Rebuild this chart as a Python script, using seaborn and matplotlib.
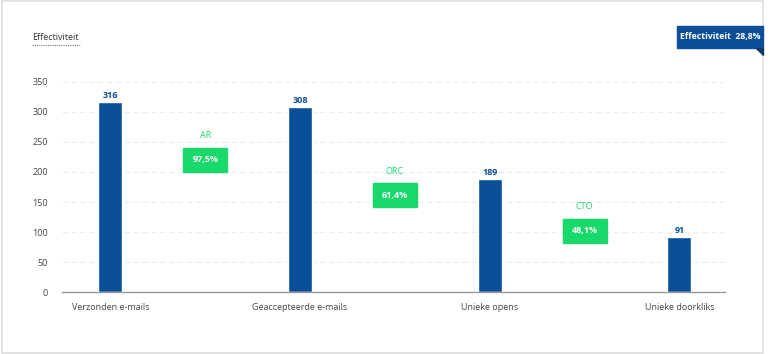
import matplotlib
matplotlib.use("Agg")
from matplotlib import pyplot as plt
from matplotlib.patches import Rectangle, Polygon
import pandas as pd
import seaborn as sns

categories = ["Verzonden e-mails", "Geaccepteerde e-mails", "Unieke opens", "Unieke doorkliks"]
counts = [316, 308, 189, 91]
ratio_names = ["AR", "ORC", "CTO"]
ratio_labels = ["97,5%", "61,4%", "48,1%"]
title = "Effectiviteit"
badge_text = "Effectiviteit  28,8%"

# box centres (data units) for the ratio badges between bars
ratio_box_y = [220, 161, 102.5]

BLUE = "#0a4f97"
GREEN = "#19d96b"

data = pd.DataFrame({"stage": categories, "count": counts})

sns.set_style("white")
plt.rcParams["font.family"] = ["Open Sans", "DejaVu Sans"]

fig = plt.figure(figsize=(7.7, 3.54), dpi=100)
ax = fig.add_axes([0.0805, 0.1751, 0.861, 0.5933])

g = sns.barplot(x="stage", y="count", data=data, color=BLUE, width=0.126,
                saturation=1, ax=ax)

ax.set_xlim(-0.255, 3.24)
ax.set_ylim(0, 350)
ax.set_yticks(range(0, 351, 50))
ax.yaxis.grid(True, color="#ececec", linestyle=(0, (5, 3)), linewidth=0.8)
ax.set_axisbelow(True)
for s in ["top", "right", "left"]:
    ax.spines[s].set_visible(False)
ax.spines["bottom"].set_color("#9a9a9a")
ax.spines["bottom"].set_linewidth(1.0)
ax.tick_params(axis="both", length=0, labelsize=6.5, colors="#444444")
ax.tick_params(axis="y", pad=10)
ax.tick_params(axis="x", pad=8)
ax.set_xlabel("")
ax.set_ylabel("")

for i, v in enumerate(counts):
    ax.annotate(str(v), (i, v), xytext=(0, 1.5), textcoords="offset points",
                ha="center", va="bottom", fontsize=6.5, fontweight="bold", color=BLUE)

for i, (name, lab, yb) in enumerate(zip(ratio_names, ratio_labels, ratio_box_y)):
    xc = i + 0.5
    ax.add_patch(Rectangle((xc - 0.116, yb - 20), 0.232, 40, color=GREEN, zorder=3,
                           clip_on=False))
    ax.text(xc, yb, lab, ha="center", va="center", fontsize=6.5, fontweight="bold",
            color="white", zorder=4)
    ax.text(xc, yb + 40, name, ha="center", va="center", fontsize=6.5, color=GREEN)

# title with dotted underline
fig.text(32 / 770, 1 - 38 / 354, title, ha="left", va="center", fontsize=6.5, color="#333333")
fig.add_artist(plt.Line2D([32 / 770, 80 / 770], [1 - 45 / 354, 1 - 45 / 354],
                          color="#777777", linewidth=0.8, linestyle=(0, (1, 1))))

# card border
fig.add_artist(Rectangle((0.002, 0.004), 763 / 770 - 0.002, 0.994, fill=False,
                         edgecolor="#dddddd", linewidth=1.2))

# badge top right
bx0, bx1 = 677 / 770, 763 / 770
by0, by1 = 1 - 48 / 354, 1 - 26 / 354
fig.add_artist(Rectangle((bx0, by0), bx1 - bx0, by1 - by0, color=BLUE))
fig.add_artist(Polygon([(bx1 - 7 / 770, by0), (bx1, by0), (bx1, by0 - 7 / 354)],
                       closed=True, color="#123a66"))
fig.text((bx0 + bx1) / 2, (by0 + by1) / 2, badge_text, ha="center", va="center",
         fontsize=6.3, fontweight="bold", color="white")

plt.savefig("out.png", dpi=100)
plt.close()
